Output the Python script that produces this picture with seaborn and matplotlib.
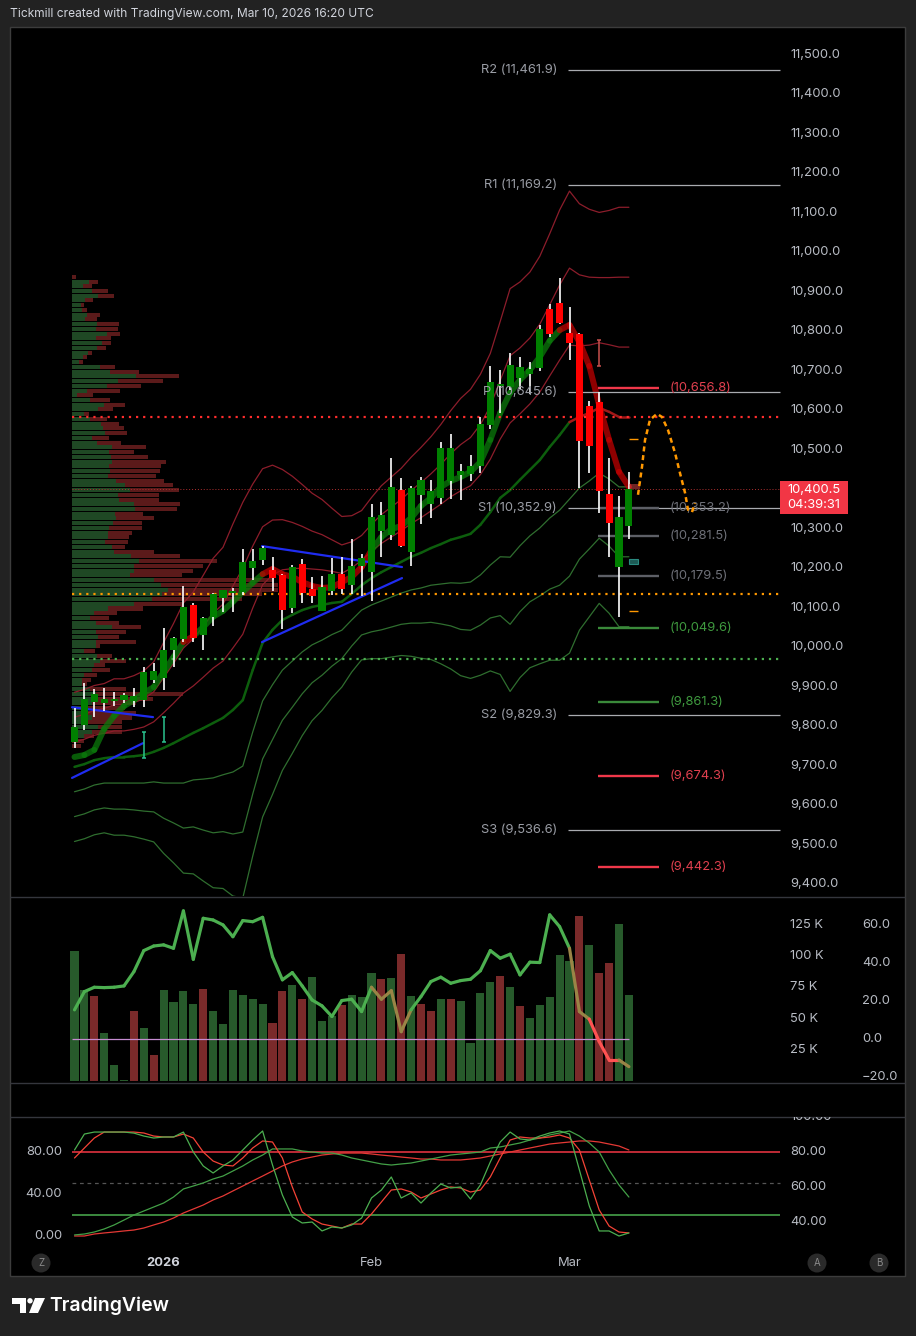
import numpy as np
import pandas as pd
import matplotlib
matplotlib.use("Agg")
import matplotlib.pyplot as plt
from matplotlib.collections import LineCollection
from matplotlib.patches import Rectangle, Circle, Polygon
import seaborn as sns

# ---------------- data ----------------
dates = pd.bdate_range("2025-12-18", "2026-03-10")
dates = dates[~dates.isin(pd.to_datetime(["2025-12-25", "2026-01-01"]))]

opens = [9761, 9803, 9860, 9859, 9864, 9866, 9864, 9866, 9917, 9923,
         9993, 10021, 10107, 10031, 10077, 10125, 10137, 10139, 10201, 10221,
         10196, 10184, 10100, 10211, 10147, 10092, 10142, 10185, 10158, 10206,
         10190, 10294, 10284, 10398, 10241, 10386, 10363, 10378, 10421, 10436,
         10439, 10458, 10563, 10662, 10659, 10682, 10692, 10707, 10793, 10821,
         10796, 10793, 10611, 10621, 10388, 10330, 10308]
highs = [9846, 9909, 9893, 9897, 9886, 9884, 9897, 9951, 9961, 10049,
         10026, 10155, 10112, 10076, 10137, 10145, 10149, 10249, 10249, 10257,
         10229, 10186, 10208, 10223, 10179, 10181, 10226, 10228, 10274, 10236,
         10363, 10368, 10479, 10429, 10408, 10431, 10423, 10520, 10540, 10464,
         10487, 10584, 10712, 10702, 10745, 10735, 10722, 10816, 10869, 10935,
         10862, 10796, 10624, 10646, 10479, 10383, 10444]
lows = [9745, 9790, 9824, 9838, 9851, 9859, 9849, 9849, 9909, 9892,
        9951, 10014, 10014, 9993, 10054, 10090, 10090, 10132, 10170, 10208,
        10142, 10046, 10087, 10112, 10113, 10092, 10132, 10135, 10135, 10130,
        10117, 10228, 10272, 10254, 10206, 10312, 10327, 10363, 10375, 10373,
        10421, 10441, 10553, 10593, 10651, 10654, 10641, 10700, 10786, 10819,
        10727, 10403, 10441, 10340, 10229, 10077, 10274]
closes = [9799, 9869, 9882, 9869, 9870, 9879, 9877, 9937, 9940, 9993,
          10023, 10101, 10024, 10074, 10134, 10145, 10142, 10216, 10218, 10251,
          10176, 10094, 10203, 10137, 10130, 10152, 10185, 10147, 10206, 10226,
          10330, 10335, 10406, 10256, 10403, 10424, 10396, 10505, 10505, 10446,
          10459, 10565, 10672, 10667, 10715, 10710, 10705, 10806, 10857, 10872,
          10771, 10521, 10510, 10396, 10315, 10204, 10400.5]
candle_dir = "gggggggggggg" "rggggggg" "rrgrrggrgg" "gggrgggggggggggggg" "rrrrrrr"

ma_line = [9722, 9727, 9740, 9793, 9826, 9851, 9866, 9884, 9899, 9937,
           9975, 10013, 10028, 10051, 10077, 10092, 10115, 10140, 10163, 10185,
           10198, 10185, 10178, 10165, 10155, 10150, 10152, 10165, 10178, 10203,
           10246, 10279, 10299, 10307, 10327, 10358, 10378, 10406, 10421, 10431,
           10444, 10469, 10525, 10593, 10644, 10677, 10702, 10735, 10776, 10803,
           10816, 10773, 10712, 10613, 10525, 10444, 10406]
ma_dir = "g" * 11 + "r" + "g" * 7 + "r" * 11 + "g" * 19 + "r" * 7

band_mid = [9697, 9704, 9714, 9719, 9722, 9722, 9724, 9727, 9735, 9745,
            9757, 9770, 9783, 9795, 9808, 9821, 9841, 9866, 9942, 10011,
            10044, 10069, 10082, 10094, 10102, 10107, 10112, 10115, 10135, 10157,
            10175, 10190, 10203, 10216, 10229, 10239, 10251, 10261, 10272, 10279,
            10287, 10310, 10342, 10378, 10398, 10424, 10449, 10474, 10507, 10537,
            10570, 10583, 10593, 10606, 10596, 10583, 10583]
band_dev = [63, 63, 63, 63, 66, 66, 68, 71, 76, 89,
            101, 114, 119, 129, 139, 144, 157, 167, 157, 147,
            139, 127, 117, 106, 96, 89, 80, 72, 66, 63,
            68, 73, 76, 79, 84, 89, 94, 101, 109, 117,
            122, 127, 134, 149, 170, 167, 167, 172, 180, 190,
            195, 180, 172, 165, 170, 177, 177]
mid_dir = "g" * 50 + "r" * 6

# volume profile (rows from top, lengths in screen px)
PROFILE_TOP, PROFILE_STEP = 10938, 12
profile_buy = [0, 17, 11, 20, 26, 13, 9, 10, 15, 13, 25, 24, 35, 24, 30, 25, 16, 11, 7, 28,
               38, 64, 46, 35, 15, 5, 18, 32, 26, 12, 18, 29, 31, 33, 20, 25, 40, 37, 39, 40,
               37, 38, 36, 44, 53, 58, 46, 47, 62, 63, 43, 44, 41, 37, 36, 36, 33, 40, 42, 59,
               67, 62, 62, 58, 82, 89, 96, 90, 80, 62, 36, 22, 18, 24, 40, 24, 26, 24, 24, 12,
               25, 28, 22, 20, 12, 10, 10, 18, 24, 22, 20, 8, 10, 20, 10, 26, 20, 12, 0, 0]
profile_sell = [4, 9, 9, 16, 16, 8, 3, 5, 13, 12, 22, 22, 13, 15, 9, 9, 4, 4, 4, 15,
                29, 43, 45, 34, 33, 16, 20, 21, 15, 5, 17, 18, 21, 22, 17, 24, 34, 25, 37, 54,
                52, 50, 48, 48, 48, 49, 41, 40, 46, 42, 28, 38, 29, 33, 24, 21, 23, 13, 40, 49,
                78, 69, 59, 52, 120, 117, 110, 100, 90, 48, 35, 23, 19, 23, 29, 30, 21, 40, 4, 11,
                15, 26, 11, 18, 13, 9, 5, 36, 87, 59, 44, 45, 54, 40, 40, 24, 30, 10, 12, 9]

pivot_names = ["R2", "R1", "P", "S1", "S2", "S3"]
pivot_values = [11461.9, 11169.2, 10645.6, 10352.9, 9829.3, 9536.6]
level_values = [10656.8, 10353.2, 10281.5, 10179.5, 10049.6, 9861.3, 9674.3, 9442.3]
level_kind = ["r", "n", "n", "n", "g", "g", "r", "r"]
dotted_levels = [10584, 10135, 9971]
dotted_colors = ["#ff2d2d", "#ff9800", "#4caf50"]
last_price = 10400.5
countdown = "04:39:31"

# drawings (bar index, price)
trend_lines = [(-0.25, 9848, 7.93, 9823), (-0.25, 9669, 6.92, 9757),
               (18.94, 10256, 33.08, 10203), (18.94, 10013, 33.08, 10175)]
proj_idx = [56.92, 57.32, 57.63, 58.13, 58.84, 59.34, 59.95, 60.66, 61.16, 61.67, 61.97, 62.37, 62.68]
proj_price = [10386, 10456, 10525, 10576, 10591, 10583, 10550, 10492, 10441, 10391, 10348, 10342, 10365]
marker_idx = [7, 9, 53]
marker_lo = [9720, 9761, 10712]
marker_hi = [9785, 9824, 10778]
marker_col = ["#2bc38f", "#2bc38f", "#c8504d"]

volumes = [104.2, 72.9, 68.1, 38.5, 12.8, 0.8, 56.1, 42.5, 20.8, 72.9,
           63.3, 72.1, 61.7, 73.7, 56.1, 45.7, 72.9, 68.9, 65.7, 61.7,
           46.5, 72.1, 76.9, 65.7, 83.3, 48.1, 52.1, 60.9, 68.9, 67.3,
           86.5, 81.7, 82.5, 101.8, 68.1, 61.7, 56.1, 65.7, 65.7, 64.1,
           30.4, 70.5, 79.3, 84.1, 75.3, 60.1, 50.5, 60.9, 67.3, 101.0,
           96.2, 132.2, 109.0, 86.5, 94.6, 125.8, 68.9]
vol_dir = "ggrgggrgrg" "gggrgggggg" "rrgrgggrgg" "grgrgrrgrg" "gggrgrgggg" "grgrrgg"
osc = [15.3, 24.9, 27.2, 27.0, 27.2, 27.9, 35.4, 46.5, 48.9, 49.5,
       47.7, 67.4, 41.9, 63.5, 62.6, 60.0, 53.8, 62.3, 61.7, 64.0,
       43.3, 31.1, 34.9, 27.9, 20.5, 17.4, 11.8, 20.2, 20.9, 14.4,
       27.2, 20.9, 25.4, 3.8, 15.3, 22.3, 30.2, 32.5, 29.3, 30.7,
       31.4, 35.9, 46.5, 42.5, 44.6, 33.7, 40.4, 40.2, 65.3, 59.1,
       47.7, 14.4, 10.4, -1.4, -11.1, -11.1, -14.6]
osc_dir = "g" * 30 + "oooo" + "g" * 16 + "oorrro"

stoch_k = [81.9, 97.1, 99, 99, 99, 99, 98, 95.2, 93.3, 94.3,
           94.3, 99, 80, 66.7, 60, 66.7, 72.4, 81.9, 91.4, 100,
           67.6, 39, 18.1, 12.4, 13.3, 4.8, 8.6, 7.6, 10.5, 17.1,
           36.2, 43.8, 56.2, 36.2, 41, 31.4, 41, 49.5, 45.7, 46.7,
           35.2, 48.6, 70.5, 89.5, 99, 92.4, 91.4, 95.2, 98.1, 100,
           97.1, 62.9, 28.6, 4.8, 4.8, 0, 2.9]
stoch_d = [74.3, 83.8, 93.3, 99, 99, 99, 99, 98.1, 95.2, 94.3,
           94.3, 97.1, 93.3, 80, 71.4, 67.6, 66.7, 74.3, 83.8, 90.5,
           89.5, 74.3, 46.7, 22.9, 16.2, 11.4, 9.5, 7.6, 11.4, 11.4,
           21, 32.4, 43.8, 44.8, 41.9, 36.2, 40, 43.8, 46.7, 45.7,
           41.9, 43.8, 56.2, 74.3, 91.4, 94.3, 93.3, 93.3, 94.3, 96.2,
           93.3, 81.9, 53.3, 24.8, 9.5, 3.8, 2.9]
slow_g = [1, 1.9, 3.8, 6.7, 10.5, 15.2, 20, 23.8, 27.6, 31.4,
          37.1, 44.8, 47.6, 50.5, 54.3, 57.1, 61.9, 66.7, 72.4, 77.1,
          82.9, 82.9, 82.9, 81, 80, 79, 79, 77.1, 74.3, 72.4,
          70.5, 68.6, 67.6, 68.6, 69.5, 71.4, 73.3, 75.2, 77.1, 78.1,
          79, 80, 83.8, 84.8, 86.7, 88.6, 91.4, 93.3, 96.2, 98.1,
          100, 95.2, 88.6, 80, 62.9, 48.6, 37.1]
slow_r = [0, 0, 1.9, 2.9, 3.8, 4.8, 5.7, 7.6, 10.5, 13.3,
          17.1, 21.9, 25.7, 29.5, 34.3, 38.1, 42.9, 47.6, 52.4, 57.1,
          61.9, 66.7, 70.5, 73.3, 75.2, 77.1, 78.1, 79, 79, 79,
          78.1, 77.1, 76.2, 75.2, 74.3, 73.3, 73.3, 72.4, 72.4, 72.4,
          73.3, 74.3, 76.2, 78.1, 80, 81.9, 83.8, 85.7, 87.6, 88.6,
          89.5, 90.5, 90.5, 89.5, 87.6, 85.7, 81.9]

price_ticks = list(range(9400, 11600, 100))
vol_ticks = [25, 50, 75, 100, 125]
osc_ticks = [60, 40, 20, 0, -20]
stoch_left_ticks = [80, 40, 0]
stoch_right_ticks = [100, 80, 60, 40]

# ---------------- layout ----------------
W, H = 916, 1336
PX0, BAR = 74.5, 9.9          # screen x of first bar, px per bar


def frac(x0, y0, x1, y1):
    return [x0 / W, 1 - y1 / H, (x1 - x0) / W, (y1 - y0) / H]


def ix(px):
    return (px - PX0) / BAR


def axx(px):
    return (px - 10) / 895


def colored_line(axis, xs, ys, cols, **kw):
    pts = np.column_stack([xs, ys])
    segs = np.stack([pts[:-1], pts[1:]], axis=1)
    axis.add_collection(LineCollection(segs, colors=cols, capstyle="round", **kw))


sns.set_theme(style="dark", rc={"axes.facecolor": "none", "figure.facecolor": "#222222"})
plt.rcParams["font.family"] = ["Inter", "DejaVu Sans"]

TXT = "#b8bcc4"
FS = 9.3
GRN, RED = "#008000", "#ff0000"
idx = np.arange(len(closes))
XL = (ix(10), ix(905))

fig = plt.figure(figsize=(W / 100, H / 100), dpi=100)

bg = fig.add_axes([0, 0, 1, 1], zorder=0)
bg.set_xlim(0, W); bg.set_ylim(H, 0); bg.axis("off")
bg.add_patch(Rectangle((10, 27), 895, 1249, facecolor="black", edgecolor="#3c3c3c", lw=1))
bg.hlines([896.5, 1083, 1117], 10, 905, colors="#34363d", lw=1)

# ---------------- main price pane ----------------
ax = fig.add_axes(frac(10, 28, 905, 896), zorder=2)

prof_y = PROFILE_TOP - PROFILE_STEP * np.arange(len(profile_buy))
buy_w = np.array(profile_buy) / BAR
sell_w = np.array(profile_sell) / BAR
ax.barh(prof_y, buy_w, left=ix(72), height=PROFILE_STEP * 0.85, color="#2a6131",
        alpha=0.75, lw=0, zorder=1)
ax.barh(prof_y, sell_w, left=ix(72) + buy_w, height=PROFILE_STEP * 0.85, color="#7b2323",
        alpha=0.75, lw=0, zorder=1)

bands = pd.DataFrame({"i": idx, "mid": band_mid, "dev": band_dev})
for k in (1, 2, 3):
    sns.lineplot(x=bands["i"], y=bands["mid"] + k * bands["dev"], ax=ax, color="#8c1d2b",
                 lw=0.9, zorder=2)
    sns.lineplot(x=bands["i"], y=bands["mid"] - k * bands["dev"], ax=ax, color="#2f6e2f",
                 lw=0.9, zorder=2)
colored_line(ax, idx, band_mid, ["#0d5e0d" if c == "g" else "#a01818" for c in mid_dir],
             lw=1.8, zorder=2)
colored_line(ax, idx, ma_line, ["#0b7a0b" if c == "g" else "#c00000" for c in ma_dir],
             lw=4.3, alpha=0.75, zorder=3)

for x0, p0, x1, p1 in trend_lines:
    ax.plot([x0, x1], [p0, p1], color="#1f2cf0", lw=1.6, zorder=3)

# levels
ax.hlines(dotted_levels, ix(72), ix(780), colors=dotted_colors, lw=1.6,
          linestyles=(0, (1, 2.2)), zorder=3)
ax.hlines(last_price, ix(72), ix(780), colors="#b03030", lw=0.7, linestyles=(0, (1, 2)), zorder=3)
ax.hlines(pivot_values, ix(568), ix(780), colors="#a9abb0", lw=0.9, zorder=3)
for name, v in zip(pivot_names, pivot_values):
    ax.text(ix(557), v, f"{name} ({v:,.1f})", color="#9a9da5", fontsize=FS, ha="right",
            va="center", zorder=6)
lvl_line = {"r": "#f0384a", "n": "#5d5f66", "g": "#3a8a3a"}
lvl_text = {"r": "#e0404f", "n": "#6e7078", "g": "#3f9a3f"}
for v, k in zip(level_values, level_kind):
    ax.hlines(v, ix(598), ix(659), colors=lvl_line[k], lw=1.7, zorder=3)
    ax.text(ix(670), v, f"({v:,.1f})", color=lvl_text[k], fontsize=FS, va="center", zorder=6)

# candles
cc = [GRN if c == "g" else RED for c in candle_dir]
o, c = np.array(opens), np.array(closes)
ax.vlines(idx, lows, highs, color="white", lw=1.2, zorder=4)
ax.bar(idx, np.maximum(np.abs(c - o), 4), bottom=np.minimum(o, c), width=0.72, color=cc,
       lw=0, zorder=5)

for m, lo, hi, col in zip(marker_idx, marker_lo, marker_hi, marker_col):
    ax.vlines(m, lo, hi, color=col, lw=1.1, zorder=6)
    ax.hlines([lo, hi], m - 0.2, m + 0.2, color=col, lw=1.1, zorder=6)
ax.hlines([10527, 10092], 56.05, 56.95, color="#ff9800", lw=1, zorder=6)
ax.add_patch(Rectangle((56.05, 10211), 0.9, 13, facecolor="#1d5a55", edgecolor="#2a8a80",
                       lw=0.8, zorder=6))
ax.add_patch(Rectangle((56.0, last_price), 1.1, 14, facecolor="#ff5050", alpha=0.45,
                       lw=0, zorder=6))
ax.plot(proj_idx, proj_price, color="#ff9800", lw=1.8, ls=(0, (2, 1.5)), zorder=6)

# price scale; the tick hidden behind the last-price tag is not drawn
for p in price_ticks:
    if abs(p - last_price) < 40:
        continue
    ax.text(axx(790), p, f"{p:,.1f}", transform=ax.get_yaxis_transform(), color=TXT,
            fontsize=FS, va="center", ha="left")
ax.set_xlim(*XL)
ax.set_ylim(9370, 11568)
ax.axis("off")

# ---------------- volume pane ----------------
vax = fig.add_axes(frac(10, 897, 905, 1083), zorder=2)
vax.bar(idx, volumes, width=0.82, lw=0,
        color=["#275a2b" if d == "g" else "#7a2a2a" for d in vol_dir])
for t in vol_ticks:
    vax.text(axx(790), t, f"{t} K", transform=vax.get_yaxis_transform(), color=TXT,
             fontsize=FS, va="center")
vax.set_xlim(*XL); vax.set_ylim(-1.4, 147.4); vax.axis("off")

oax = fig.add_axes(frac(10, 897, 905, 1083), zorder=3)
oax.hlines(0, ix(72), ix(629), colors="#c58bd0", lw=0.9)
osc_col = {"g": "#4caf50", "o": "#9a8446", "r": "#ff5252"}
colored_line(oax, idx, osc, [osc_col[d] for d in osc_dir], lw=2.3)
for t in osc_ticks:
    lab = f"{t:.1f}".replace("-", "\u2212")
    oax.text(axx(862), t, lab, transform=oax.get_yaxis_transform(), color=TXT,
             fontsize=FS, va="center")
oax.set_xlim(*XL); oax.set_ylim(-23.2, 74.7); oax.axis("off")

# ---------------- stochastic pane ----------------
sax = fig.add_axes(frac(10, 1117, 905, 1248), zorder=2)
sax.hlines(80, ix(72), ix(780), colors="#f23645", lw=1.1)
sax.hlines(20, ix(72), ix(780), colors="#4caf50", lw=1.1)
sax.hlines(50, ix(72), ix(780), colors="#555555", lw=0.9, linestyles=(0, (3, 3)))
st = pd.DataFrame({"i": idx, "k": stoch_k, "d": stoch_d, "sg": slow_g, "sr": slow_r})
sns.lineplot(data=st, x="i", y="sr", ax=sax, color="#e53935", lw=0.9)
sns.lineplot(data=st, x="i", y="sg", ax=sax, color="#43a047", lw=0.9)
sns.lineplot(data=st, x="i", y="d", ax=sax, color="#f44336", lw=0.9)
sns.lineplot(data=st, x="i", y="k", ax=sax, color="#4caf50", lw=0.9)
for t in stoch_left_ticks:
    sax.text(axx(62), t, f"{t:.2f}", transform=sax.get_yaxis_transform(), color=TXT,
             fontsize=FS, va="center", ha="right")
sax.set_xlim(*XL); sax.set_ylim(-11.43, 113.33); sax.axis("off")

rax = fig.add_axes(frac(10, 1117, 905, 1248), zorder=3)
for t in stoch_right_ticks:
    rax.text(axx(790), t, f"{t:.2f}", transform=rax.get_yaxis_transform(), color=TXT,
             fontsize=FS, va="center", clip_on=True)
rax.set_xlim(*XL); rax.set_ylim(25.14, 100.0); rax.axis("off")

# ---------------- overlay: texts, time axis, price box ----------------
top = fig.add_axes([0, 0, 1, 1], zorder=10)
top.set_xlim(0, W); top.set_ylim(H, 0); top.axis("off")
top.text(10, 14, "Tickmill created with TradingView.com, Mar 10, 2026 16:20 UTC",
         color="#d1d4dc", fontsize=8.6, va="center")

first_2026 = int(np.argmax(dates.year == 2026))
first_feb = int(np.argmax(dates.month == 2))
first_mar = int(np.argmax(dates.month == 3))
for i, lab, wt in [(first_2026, "2026", "bold"), (first_feb, "Feb", "normal"),
                   (first_mar, "Mar", "normal")]:
    top.text(PX0 + BAR * i, 1263, lab, color="#d1d4dc" if wt == "bold" else TXT,
             fontsize=FS, fontweight=wt, ha="center", va="center")
for cx, letter in [(41, "Z"), (817, "A"), (879, "B")]:
    top.add_patch(Circle((cx, 1263), 9.5, facecolor="#2a2a2a", edgecolor="none"))
    top.text(cx, 1263.5, letter, color="#8a8a8a", fontsize=7, ha="center", va="center")

top.add_patch(Rectangle((780, 481), 68, 33, facecolor="#f23645", edgecolor="none"))
top.text(814, 490, f"{last_price:,.1f}", color="white", fontsize=FS, ha="center", va="center")
top.text(814, 505, countdown, color="white", fontsize=FS, ha="center", va="center")

# TradingView logo
top.add_patch(Polygon([(12, 1298), (26, 1298), (26, 1313), (20, 1313), (20, 1304), (12, 1304)],
                      closed=True, facecolor="white", edgecolor="none"))
top.add_patch(Circle((30, 1300.8), 2.7, facecolor="white", edgecolor="none"))
top.add_patch(Polygon([(35, 1298), (45, 1298), (38, 1313), (29, 1313)], closed=True,
                      facecolor="white", edgecolor="none"))
top.text(49, 1306, "TradingView", color="white", fontsize=14, fontweight="semibold",
         va="center")

fig.savefig("out.png", dpi=100, facecolor="#222222")
